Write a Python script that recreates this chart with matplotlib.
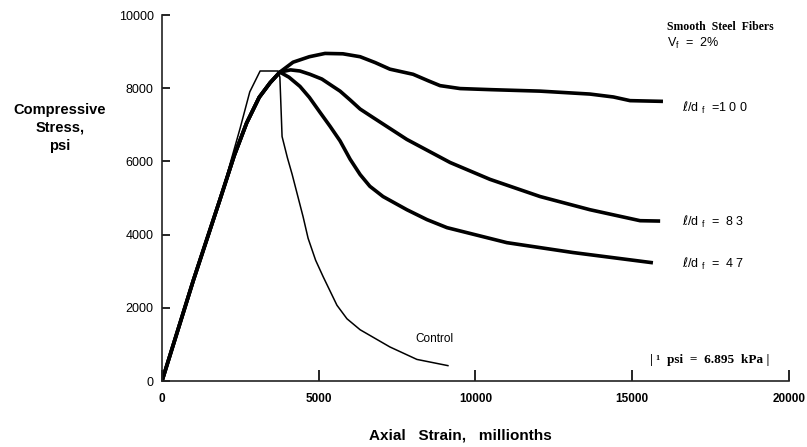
import matplotlib
matplotlib.use("Agg")
import matplotlib.pyplot as plt

# ---- data (strain in millionths, stress in psi) ----
rise_strain = [0, 1000, 1850, 2300, 2700, 3100, 3450, 3760]
rise_stress = [0, 2750, 4960, 6150, 7050, 7750, 8150, 8440]

ld100_strain = [4180, 4700, 5200, 5770, 6320, 6800, 7270, 8010, 8500, 8870, 9510, 10500, 12060, 13650, 14400, 14930, 15980]
ld100_stress = [8710, 8860, 8950, 8940, 8860, 8700, 8520, 8380, 8200, 8070, 7990, 7960, 7920, 7840, 7760, 7660, 7640]

ld83_strain = [4100, 4400, 4720, 5100, 5450, 5680, 6000, 6320, 6730, 7810, 9190, 10460, 12060, 13650, 15250, 15890]
ld83_stress = [8500, 8470, 8380, 8250, 8050, 7920, 7680, 7430, 7200, 6600, 5970, 5510, 5040, 4680, 4380, 4370]

ld47_strain = [4050, 4400, 4700, 5040, 5360, 5680, 6000, 6320, 6630, 7050, 7810, 8450, 9090, 11000, 13110, 15660]
ld47_stress = [8300, 8050, 7750, 7340, 6960, 6560, 6060, 5640, 5320, 5040, 4680, 4410, 4190, 3780, 3510, 3230]

ctrl_strain = [0, 1000, 1850, 2490, 2800, 3130, 3700, 3760, 3830, 4000, 4150, 4500, 4660, 4900, 5140, 5580, 5900, 6320, 7270, 8130, 9120]
ctrl_stress = [0, 2750, 4960, 6900, 7900, 8470, 8470, 8300, 6680, 6100, 5650, 4490, 3900, 3300, 2850, 2070, 1700, 1400, 930, 590, 420]

x_ticks = [0, 5000, 10000, 15000, 20000]
y_ticks = [0, 2000, 4000, 6000, 8000, 10000]

fig = plt.figure(figsize=(8.07, 4.47), dpi=100)
ax = fig.add_axes([162/807, 1-381/447, (789-162)/807, (381-15)/447])
ax.set_xlim(0, 20000)
ax.set_ylim(0, 10000)

thick = 2.6
for sx, sy in [(ld100_strain, ld100_stress), (ld83_strain, ld83_stress), (ld47_strain, ld47_stress)]:
    ax.plot(rise_strain + sx, rise_stress + sy, color='black', lw=thick,
            solid_capstyle='butt', solid_joinstyle='round')
ax.plot(ctrl_strain, ctrl_stress, color='black', lw=1.1, solid_joinstyle='round')

for s in ['top', 'right']:
    ax.spines[s].set_visible(False)
for s in ['left', 'bottom']:
    ax.spines[s].set_linewidth(1.2)
    ax.spines[s].set_color('#222222')

ax.set_xticks(x_ticks)
ax.set_yticks(y_ticks)
ax.set_xticklabels([str(v) for v in x_ticks], fontsize=8.5, fontweight='bold', family='Liberation Sans')
ax.set_yticklabels([str(v) for v in y_ticks], fontsize=9, family='Liberation Sans')
ax.tick_params(axis='y', direction='in', length=6, width=1.2, pad=6)
ax.tick_params(axis='x', direction='in', length=8, width=1.2, pad=9)
for t in ax.get_xticklines() + ax.get_yticklines():
    t.set_clip_on(False)

fig.text(60/807, 1-128/447, "Compressive\nStress,\npsi", ha='center', va='center',
         fontsize=10.5, fontweight='bold', family='Liberation Sans', linespacing=1.4)
fig.text(460/807, 1-435/447, "Axial   Strain,   millionths", ha='center', va='center',
         fontsize=11, fontweight='bold', family='Liberation Sans')

fig.text(667/807, 1-27/447, "Smooth  Steel  Fibers", ha='left', va='center',
         fontsize=8.5, fontweight='bold', family='Liberation Serif')
fig.text(667/807, 1-43/447, r"V$_\mathregular{f}$  =  2%", ha='left', va='center',
         fontsize=9, family='Liberation Sans')

for ypix, lab in [(108, "=1 0 0"), (222, "=  8 3"), (264, "=  4 7")]:
    fig.text(682/807, 1-ypix/447, r"$\ell$/d $_\mathregular{f}$  " + lab, ha='left', va='center',
             fontsize=9, family='Liberation Sans')

ax.text(8680, 1150, "Control", ha='center', va='center', fontsize=8.5, family='Liberation Sans')

fig.text(710/807, 1-360/447, "| ¹  psi  =  6.895  kPa |", ha='center', va='center',
         fontsize=9.5, fontweight='bold', family='Liberation Serif')

fig.savefig("out.png", dpi=100)
